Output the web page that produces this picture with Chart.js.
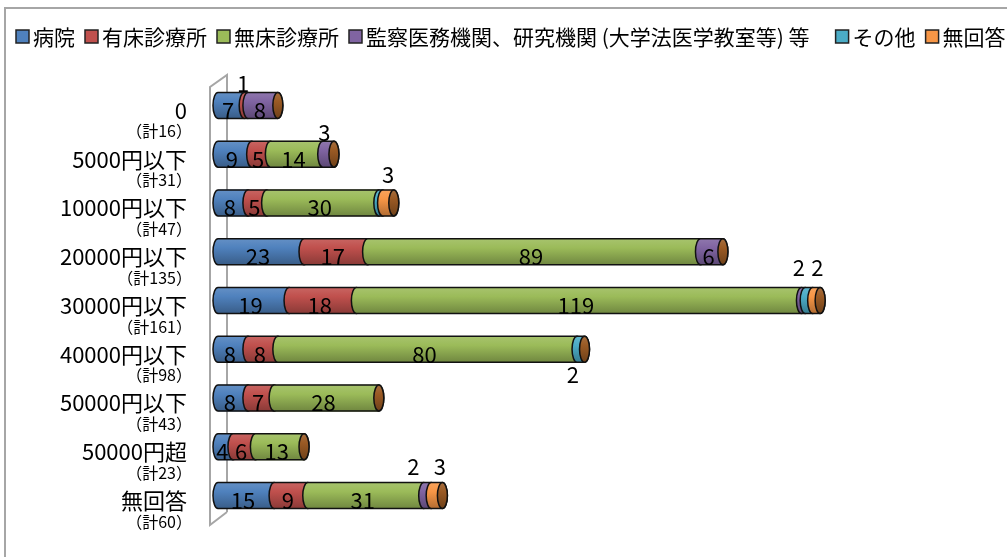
<!DOCTYPE html>
<html>
<head>
<meta charset="utf-8">
<script src="https://cdn.jsdelivr.net/npm/chart.js@4.4.0/dist/chart.umd.min.js"></script>
<style>
    html, body { margin: 0; padding: 0; background: #fff; }
    #wrap { width: 1007px; height: 557px; }
</style>
</head>
<body>
<div id="wrap"><canvas id="costChart" width="1007" height="557"></canvas></div>
<script>
(function () {
    // 金額区分ごとの内訳
    var categories = ['0', '5000円以下', '10000円以下', '20000円以下', '30000円以下', '40000円以下', '50000円以下', '50000円超', '無回答'];
    var totals = [16, 31, 47, 135, 161, 98, 43, 23, 60];
    var seriesNames = ['病院', '有床診療所', '無床診療所', '監察医務機関、研究機関 (大学法医学教室等) 等', 'その他', '無回答'];
    var hospital = [7, 9, 8, 23, 19, 8, 8, 4, 15];
    var bedClinic = [1, 5, 5, 17, 18, 8, 7, 6, 9];
    var noBedClinic = [0, 14, 30, 89, 119, 80, 28, 13, 31];
    var examiner = [8, 3, 0, 6, 1, 0, 0, 0, 2];
    var other = [0, 0, 1, 0, 2, 2, 0, 0, 0];
    var noAnswer = [0, 0, 3, 0, 2, 0, 0, 0, 3];

    var colors = ['#4f81bd', '#c0504d', '#9bbb59', '#8064a2', '#4bacc6', '#f79646'];
    var capColor = '#9a5a24';
    var FONT = '"Noto Sans CJK JP", "Noto Sans", sans-serif';

    // 細いセグメントのラベル位置 (行,系列 -> ずらし量)
    var smallLabelPlacement = {
        '0,1': [-3, -22],
        '1,3': [-4, -22],
        '2,5': [0, -28],
        '4,4': [-10, -33],
        '4,5': [1, -33],
        '5,4': [-8, 25],
        '8,3': [-14, -29],
        '8,5': [3, -29]
    };

    function shade(hex, amt) {
        var n = parseInt(hex.slice(1), 16);
        var r = (n >> 16) & 255, g = (n >> 8) & 255, b = n & 255;
        function f(c) {
            c = amt > 0 ? c + (255 - c) * amt : c * (1 + amt);
            return Math.max(0, Math.min(255, Math.round(c)));
        }
        return 'rgb(' + f(r) + ',' + f(g) + ',' + f(b) + ')';
    }

    function cylGradient(ctx, top, bottom, c) {
        var g = ctx.createLinearGradient(0, top, 0, bottom);
        g.addColorStop(0, shade(c, 0.12));
        g.addColorStop(0.35, c);
        g.addColorStop(1, shade(c, -0.28));
        return g;
    }

    var seriesData = [hospital, bedClinic, noBedClinic, examiner, other, noAnswer];
    var datasets = seriesData.map(function (d, i) {
        return {
            label: seriesNames[i],
            data: d,
            backgroundColor: colors[i],
            borderWidth: 0,
            barThickness: 26
        };
    });

    // 枠線と3Dの壁
    var framePlugin = {
        id: 'frame',
        beforeDraw: function (chart) {
            var ctx = chart.ctx;
            ctx.save();
            ctx.fillStyle = '#fff';
            ctx.fillRect(0, 0, chart.width, chart.height);
            ctx.strokeStyle = '#a6a6a6';
            ctx.lineWidth = 2;
            ctx.beginPath();
            ctx.moveTo(5, chart.height);
            ctx.lineTo(5, 8);
            ctx.lineTo(chart.width, 8);
            ctx.stroke();
            ctx.restore();
        },
        beforeDatasetsDraw: function (chart) {
            var ctx = chart.ctx, ca = chart.chartArea;
            var x1 = ca.left - 8, x2 = ca.left + 9;
            ctx.save();
            ctx.strokeStyle = '#a6a6a6';
            ctx.lineWidth = 2;
            ctx.beginPath();
            ctx.moveTo(x2, ca.bottom - 8);
            ctx.lineTo(x2, ca.top - 6);
            ctx.lineTo(x1, ca.top + 6);
            ctx.lineTo(x1, ca.bottom + 5);
            ctx.lineTo(x2, ca.bottom - 8);
            ctx.stroke();
            ctx.restore();
        }
    };

    // 円柱の描画
    var cylinderPlugin = {
        id: 'cylinder',
        afterDatasetsDraw: function (chart) {
            var ctx = chart.ctx;
            var rx = 5;
            var xs = chart.scales.x;
            ctx.save();
            ctx.lineWidth = 1.5;
            ctx.strokeStyle = '#111';
            for (var di = 0; di < chart.data.datasets.length; di++) {
                var meta = chart.getDatasetMeta(di);
                meta.data.forEach(function (bar, row) {
                    var v = chart.data.datasets[di].data[row];
                    if (!v) return;
                    var p = bar.getProps(['x', 'y', 'base', 'height'], true);
                    var x0 = Math.min(p.x, p.base), x1 = Math.max(p.x, p.base);
                    var ry = p.height / 2, top = p.y - ry, bottom = p.y + ry;
                    ctx.beginPath();
                    ctx.moveTo(x0, top);
                    ctx.lineTo(x1, top);
                    ctx.ellipse(x1, p.y, rx, ry, 0, -Math.PI / 2, Math.PI / 2);
                    ctx.lineTo(x0, bottom);
                    ctx.ellipse(x0, p.y, rx, ry, 0, Math.PI / 2, Math.PI * 1.5);
                    ctx.closePath();
                    ctx.fillStyle = cylGradient(ctx, top, bottom, colors[di]);
                    ctx.fill();
                    ctx.stroke();
                });
            }
            // 右端の面
            var meta0 = chart.getDatasetMeta(0);
            meta0.data.forEach(function (bar, row) {
                var p = bar.getProps(['y', 'height'], true);
                var ry = p.height / 2;
                var xe = xs.getPixelForValue(totals[row]);
                ctx.beginPath();
                ctx.ellipse(xe, p.y, rx, ry, 0, 0, Math.PI * 2);
                ctx.fillStyle = cylGradient(ctx, p.y - ry, p.y + ry, capColor);
                ctx.fill();
                ctx.stroke();
            });
            ctx.restore();
        },
        afterDraw: function (chart) {
            var ctx = chart.ctx;
            var ys = chart.scales.y;
            ctx.save();
            ctx.fillStyle = '#000';
            // 値ラベル
            ctx.font = '22px ' + FONT;
            ctx.textAlign = 'center';
            ctx.textBaseline = 'middle';
            for (var di = 0; di < chart.data.datasets.length; di++) {
                var meta = chart.getDatasetMeta(di);
                meta.data.forEach(function (bar, row) {
                    var v = chart.data.datasets[di].data[row];
                    if (!v) return;
                    var p = bar.getProps(['x', 'y', 'base'], true);
                    var cx = (p.x + p.base) / 2;
                    if (v >= 4) {
                        ctx.fillText(String(v), cx - 3, p.y + 5);
                    } else {
                        var pl = smallLabelPlacement[row + ',' + di];
                        if (pl) ctx.fillText(String(v), cx + pl[0], p.y + pl[1]);
                    }
                });
            }
            // 区分ラベル
            ctx.textAlign = 'right';
            categories.forEach(function (c, i) {
                var y = ys.getPixelForValue(i);
                ctx.font = '22px ' + FONT;
                ctx.fillText(c, 187, y + 5);
                ctx.font = '16px ' + FONT;
                ctx.fillText('（計' + totals[i] + '）', 192, y + 26);
            });
            // 凡例
            ctx.textAlign = 'left';
            ctx.font = '21px ' + FONT;
            var lx = 16;
            seriesNames.forEach(function (name, i) {
                ctx.fillStyle = colors[i];
                ctx.fillRect(lx, 30, 13, 13);
                ctx.strokeStyle = '#222';
                ctx.lineWidth = 1.5;
                ctx.strokeRect(lx, 30, 13, 13);
                ctx.fillStyle = '#000';
                ctx.fillText(name, lx + 17, 37);
                lx += 17 + ctx.measureText(name).width + (i === 3 ? 26 : 10);
            });
            ctx.restore();
        }
    };

    new Chart(document.getElementById('costChart'), {
        type: 'bar',
        data: { labels: categories, datasets: datasets },
        options: {
            indexAxis: 'y',
            responsive: false,
            animation: false,
            devicePixelRatio: 1,
            layout: { padding: { left: 218, right: 41, top: 81, bottom: 37 } },
            scales: {
                x: { stacked: true, display: false, min: 0, max: 200 },
                y: { stacked: true, display: false }
            },
            plugins: {
                legend: { display: false },
                tooltip: { enabled: false }
            }
        },
        plugins: [framePlugin, cylinderPlugin]
    });
})();
</script>
</body>
</html>
